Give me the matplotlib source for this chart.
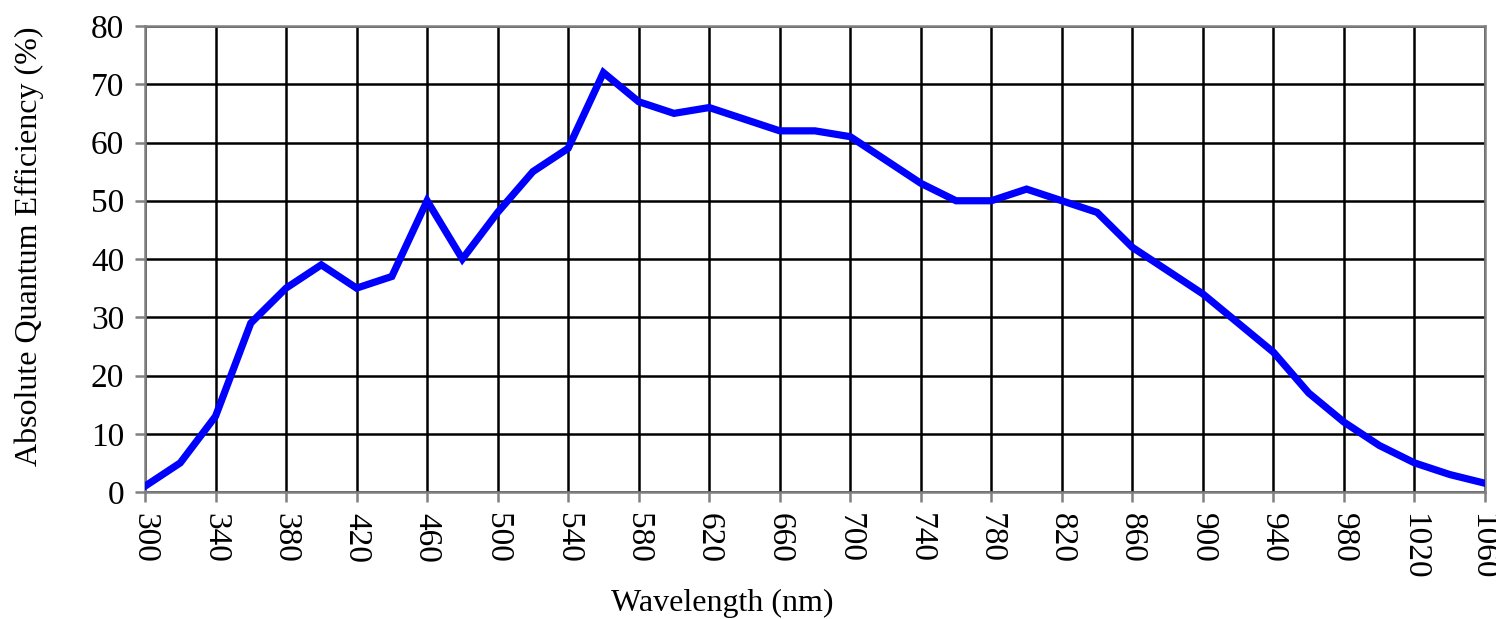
import matplotlib
matplotlib.use("Agg")
import matplotlib.pyplot as plt
import matplotlib.transforms as mtransforms

wavelength = [300, 320, 340, 360, 380, 400, 420, 440, 460, 480,
              500, 520, 540, 560, 580, 600, 620, 640, 660, 680,
              700, 720, 740, 760, 780, 800, 820, 840, 860, 880,
              900, 920, 940, 960, 980, 1000, 1020, 1040, 1060]
qe = [1, 5, 13, 29, 35, 39, 35, 37, 50, 40,
      48, 55, 59, 72, 67, 65, 66, 64, 62, 62,
      61, 57, 53, 50, 50, 52, 50, 48, 42, 38,
      34, 29, 24, 17, 12, 8, 5, 3, 1.5]

x_ticks = list(range(300, 1061, 40))
y_ticks = list(range(0, 81, 10))

plt.rcParams['font.family'] = ['Liberation Serif', 'DejaVu Serif']

fig = plt.figure(figsize=(14.96, 6.19), dpi=100)
ax = fig.add_axes([145 / 1496, 1 - 492 / 619, 1340 / 1496, 466 / 619])

ax.plot(wavelength, qe, color='#0000ff', linewidth=5.2, solid_joinstyle='miter', zorder=3)

ax.set_xlim(300, 1060)
ax.set_ylim(0, 80)
ax.set_xticks(x_ticks)
ax.set_yticks(y_ticks)
ax.set_xticklabels([str(t) for t in x_ticks], rotation=-90, fontsize=24)
ax.set_yticklabels([str(t) for t in y_ticks], fontsize=24)

ax.grid(True, color='black', linewidth=1.8, zorder=1)
for s in ax.spines.values():
    s.set_color('#808080')
    s.set_linewidth(1.8)
ax.tick_params(axis='both', color='#808080', width=1.8, length=7, pad=8)

# nudge the last x label so it stays inside the image
last = ax.get_xticklabels()[-1]
last.set_transform(last.get_transform() + mtransforms.ScaledTranslation(-3 / 100, 0, fig.dpi_scale_trans))

ax.set_xlabel("Wavelength (nm)", fontsize=23)
ax.set_ylabel("Absolute Quantum Efficiency (%)", fontsize=23)
ax.xaxis.set_label_coords(0.431, -0.208)
ax.yaxis.set_label_coords(-0.075, 0.528)

fig.savefig("out.png", dpi=100)
